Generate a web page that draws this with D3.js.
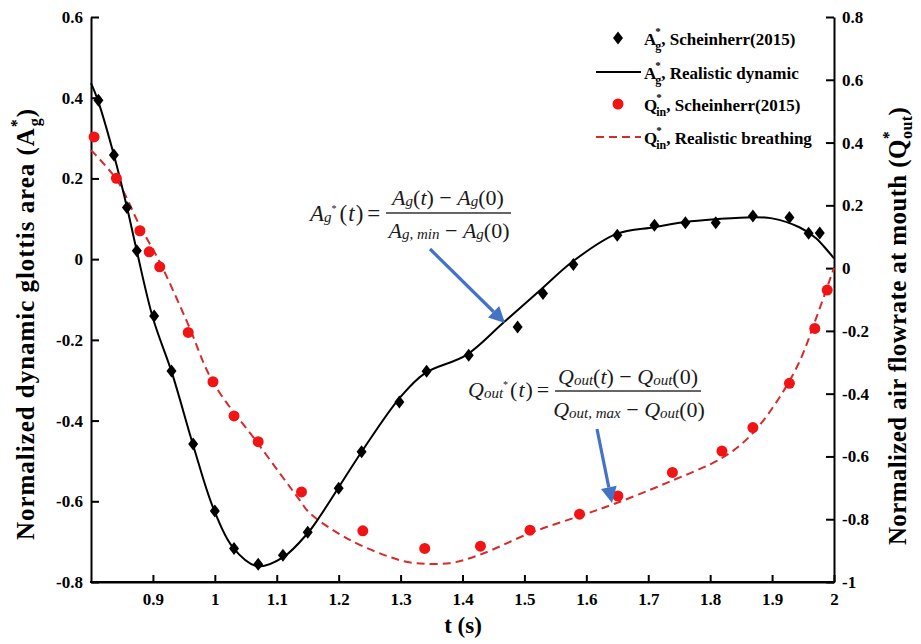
<!DOCTYPE html>
<html><head><meta charset="utf-8">
<script src="https://cdn.jsdelivr.net/npm/d3@7"></script>
<style>
body{margin:0;background:#fff}
svg{display:block}
</style>
</head><body>
<svg id="c" width="921" height="644"></svg>
<script>
// ---------- data ----------
const xTicks = [0.9,1,1.1,1.2,1.3,1.4,1.5,1.6,1.7,1.8,1.9,2];
const leftTicks = [-0.8,-0.6,-0.4,-0.2,0,0.2,0.4,0.6];
const rightTicks = [-1,-0.8,-0.6,-0.4,-0.2,0,0.2,0.4,0.6,0.8];

// A_g*, Scheinherr(2015) (left axis)
const agExpT = [0.812,0.837,0.858,0.874,0.902,0.930,0.965,1.000,1.031,1.070,1.110,1.150,1.200,1.237,1.298,1.342,1.410,1.489,1.530,1.579,1.650,1.710,1.760,1.809,1.869,1.928,1.959,1.977];
const agExpV = [0.394,0.258,0.128,0.021,-0.141,-0.277,-0.458,-0.624,-0.717,-0.756,-0.734,-0.677,-0.568,-0.477,-0.354,-0.278,-0.238,-0.168,-0.085,-0.013,0.059,0.084,0.090,0.090,0.107,0.103,0.064,0.065];
// A_g*, Realistic dynamic (left axis)
const agSimT = [0.8,0.811,0.837,0.858,0.874,0.9,0.931,0.965,0.997,1.029,1.069,1.110,1.150,1.169,1.239,1.298,1.339,1.406,1.465,1.529,1.577,1.648,1.71,1.76,1.81,1.869,1.9,1.944,1.971,1.989,2.0];
const agSimV = [0.436,0.394,0.258,0.129,0.020,-0.146,-0.283,-0.461,-0.615,-0.714,-0.761,-0.739,-0.679,-0.639,-0.473,-0.345,-0.283,-0.238,-0.159,-0.072,-0.007,0.062,0.079,0.092,0.099,0.104,0.101,0.079,0.052,0.022,0.002];
// Q_in*, Scheinherr(2015) (right axis)
const qExpT = [0.805,0.841,0.879,0.894,0.911,0.957,0.997,1.031,1.070,1.140,1.239,1.339,1.429,1.509,1.589,1.651,1.739,1.819,1.869,1.928,1.969,1.989];
const qExpV = [0.418,0.286,0.119,0.052,0.004,-0.205,-0.362,-0.471,-0.553,-0.713,-0.837,-0.893,-0.886,-0.835,-0.784,-0.726,-0.651,-0.583,-0.508,-0.367,-0.192,-0.070];
// Q_in*, Realistic breathing (right axis)
const qSimT = [0.8,0.842,0.879,0.911,0.956,0.997,1.069,1.137,1.153,1.218,1.298,1.326,1.379,1.427,1.513,1.589,1.648,1.729,1.819,1.863,1.906,1.943,1.970,1.997,2.0];
const qSimV = [0.376,0.280,0.134,0.019,-0.175,-0.363,-0.557,-0.739,-0.780,-0.866,-0.930,-0.940,-0.940,-0.914,-0.841,-0.790,-0.749,-0.685,-0.605,-0.538,-0.430,-0.303,-0.166,-0.016,0.0];

const legendNames = ["Scheinherr(2015)","Realistic dynamic","Scheinherr(2015)","Realistic breathing"];
const legendSyms = ["g","g","in","in"];
const legendBase = ["A","A","Q","Q"];

// ---------- setup ----------
const SERIF = '"Liberation Serif", "Times New Roman", Tinos, serif';
const svg = d3.select("#c").attr("font-family", SERIF);
const L=91, R=834, T=17, B=582;
const x = d3.scaleLinear().domain([0.8,2]).range([L,R]);
const yL = d3.scaleLinear().domain([-0.8,0.6]).range([B,T]);
const yR = d3.scaleLinear().domain([-1,0.8]).range([B,T]);
const fmt = d => String(+d.toFixed(1));

const BLACK="#000", RED_DOT="#f01414", RED_LINE="#d42b2b", BLUE="#4472C4";

function rich(g, px, py, parts, attrs){
  const t = g.append("text").attr("x",px).attr("y",py).attr("font-family",SERIF);
  for (const k in (attrs||{})) t.attr(k, attrs[k]);
  let prevOff=0, prevNode=null;
  parts.forEach(p=>{
    const off=p.off||0;
    const s=t.append("tspan").text(p.t).attr("font-family",SERIF);
    if(off-prevOff) s.attr("dy", off-prevOff);
    if(p.size) s.attr("font-size",p.size);
    if(p.italic!==undefined) s.attr("font-style",p.italic?"italic":"normal");
    if(p.weight) s.attr("font-weight",p.weight);
    let dx=p.dx||0;
    if(p.stack && prevNode) dx -= prevNode.getComputedTextLength();
    if(dx) s.attr("dx",dx);
    prevOff=off; prevNode=s.node();
  });
  return t;
}

// ---------- axes ----------
const axB = svg.append("g").attr("transform",`translate(0,${B})`)
  .call(d3.axisBottom(x).tickValues(xTicks).tickFormat(fmt).tickSizeInner(-7).tickSizeOuter(0).tickPadding(11));
const axL = svg.append("g").attr("transform",`translate(${L},0)`)
  .call(d3.axisLeft(yL).tickValues(leftTicks).tickFormat(fmt).tickSizeInner(-8).tickSizeOuter(0).tickPadding(8));
const axR = svg.append("g").attr("transform",`translate(${R},0)`)
  .call(d3.axisRight(yR).tickValues(rightTicks).tickFormat(fmt).tickSizeInner(-8).tickSizeOuter(0).tickPadding(8));
[axB,axL,axR].forEach(a=>{
  a.attr("font-family",SERIF).attr("font-size",17).attr("font-weight","bold");
  a.selectAll(".domain").attr("stroke",BLACK).attr("stroke-width",2);
  a.selectAll(".tick line").attr("stroke",BLACK).attr("stroke-width",2);
  a.selectAll(".tick text").attr("fill",BLACK).attr("font-size",17).attr("font-weight","bold").attr("font-family",SERIF);
});
svg.append("line").attr("x1",L-1).attr("x2",R+1).attr("y1",B).attr("y2",B).attr("stroke",BLACK).attr("stroke-width",2);

// ---------- axis titles ----------
rich(svg, 463, 633, [{t:"t (s)"}], {"text-anchor":"middle","font-size":23,"font-weight":"bold"});
function fitTitle(t, target){
  const n = t.text().length;
  const w = t.node().getBBox().width;
  t.attr("letter-spacing", ((target - w)/n).toFixed(2));
}
const tl = rich(svg.append("g").attr("transform","translate(34,324) rotate(-90)"), 0, 0, [
  {t:"Normalized dynamic glottis area (A"},
  {t:"*", size:16, off:-12},
  {t:"g", size:16, off:6, stack:true},
  {t:")", off:0}
], {"text-anchor":"middle","font-size":25,"font-weight":"bold"});
fitTitle(tl, 432);
const tr = rich(svg.append("g").attr("transform","translate(906,326) rotate(-90)"), 0, 0, [
  {t:"Normalized air flowrate at mouth (Q"},
  {t:"*", size:16, off:-12},
  {t:"out", size:16, off:6, stack:true},
  {t:")", off:0}
], {"text-anchor":"middle","font-size":25,"font-weight":"bold"});
fitTitle(tr, 438);

// ---------- series ----------
const agSim = agSimT.map((t,i)=>[t,agSimV[i]]);
const qSim = qSimT.map((t,i)=>[t,qSimV[i]]);
const agExp = agExpT.map((t,i)=>[t,agExpV[i]]);
const qExp = qExpT.map((t,i)=>[t,qExpV[i]]);

const lineL = d3.line().x(d=>x(d[0])).y(d=>yL(d[1])).curve(d3.curveCatmullRom.alpha(0.5));
const lineR = d3.line().x(d=>x(d[0])).y(d=>yR(d[1])).curve(d3.curveCatmullRom.alpha(0.5));

svg.append("path").attr("d",lineR(qSim)).attr("fill","none").attr("stroke",RED_LINE)
  .attr("stroke-width",2).attr("stroke-dasharray","8,5");
svg.append("path").attr("d",lineL(agSim)).attr("fill","none").attr("stroke",BLACK).attr("stroke-width",2);

const diamond = "M0,-6.5L5,0L0,6.5L-5,0Z";
svg.append("g").selectAll("path").data(agExp).join("path")
  .attr("d",diamond).attr("transform",d=>`translate(${x(d[0])},${yL(d[1])})`).attr("fill",BLACK);
svg.append("g").selectAll("circle").data(qExp).join("circle")
  .attr("cx",d=>x(d[0])).attr("cy",d=>yR(d[1])).attr("r",5.5).attr("fill",RED_DOT);

// ---------- legend ----------
const lg = svg.append("g");
const rowsY = [38,72,104,137];
rowsY.forEach((ry,i)=>{
  if(i===0) lg.append("path").attr("d",diamond).attr("transform",`translate(618,${ry})`).attr("fill",BLACK);
  if(i===1) lg.append("line").attr("x1",596).attr("x2",641).attr("y1",ry).attr("y2",ry).attr("stroke",BLACK).attr("stroke-width",2);
  if(i===2) lg.append("circle").attr("cx",618).attr("cy",ry).attr("r",5.5).attr("fill",RED_DOT);
  if(i===3) lg.append("line").attr("x1",596).attr("x2",641).attr("y1",ry).attr("y2",ry).attr("stroke",RED_LINE).attr("stroke-width",2).attr("stroke-dasharray","8,5");
  rich(lg, 644, ry+7, [
    {t:legendBase[i]},
    {t:"*", size:11, off:-10, dx:-1},
    {t:legendSyms[i], size:12, off:5, stack:true},
    {t:", "+legendNames[i], off:0}
  ], {"font-size":17,"font-weight":"bold","fill":BLACK});
});

// ---------- equations ----------
const eq = svg.append("g").attr("fill","#1a1a1a");
const I = {italic:true}, N={italic:false};
// Eq 1
rich(eq, 310, 221, [
  {t:"A",...I},{t:"g",size:15,off:1,...I},{t:"*",size:10,off:-9,...N},
  {t:"(",off:0,dx:3,...N},{t:"t",dx:1,...I},{t:")",dx:1,...N},{t:"=",dx:4,...N}
], {"font-size":23});
rich(eq, 448, 205, [
  {t:"A",...I},{t:"g",size:15,off:1,...I},{t:"(",off:0,...N},{t:"t",...I},{t:")",...N},{t:" − ",...N},
  {t:"A",...I},{t:"g",size:15,off:1,...I},{t:"(0)",off:0,...N}
], {"font-size":22,"text-anchor":"middle"});
eq.append("line").attr("x1",386).attr("x2",511).attr("y1",213).attr("y2",213).attr("stroke","#333").attr("stroke-width",1.3);
rich(eq, 449, 238, [
  {t:"A",...I},{t:"g, min",size:15,off:1,...I},{t:" − ",off:0,...N},
  {t:"A",...I},{t:"g",size:15,off:1,...I},{t:"(0)",off:0,...N}
], {"font-size":22,"text-anchor":"middle"});
// Eq 2
rich(eq, 468, 397, [
  {t:"Q",...I},{t:"out",size:15,off:1,...I},{t:"*",size:10,off:-9,...N},
  {t:"(",off:0,dx:2,...N},{t:"t",dx:1,...I},{t:")",dx:1,...N},{t:"=",dx:4,...N}
], {"font-size":22});
rich(eq, 628, 384, [
  {t:"Q",...I},{t:"out",size:15,off:1,...I},{t:"(",off:0,...N},{t:"t",...I},{t:")",...N},{t:" − ",...N},
  {t:"Q",...I},{t:"out",size:15,off:1,...I},{t:"(0)",off:0,...N}
], {"font-size":22,"text-anchor":"middle"});
eq.append("line").attr("x1",555).attr("x2",701).attr("y1",391).attr("y2",391).attr("stroke","#333").attr("stroke-width",1.3);
rich(eq, 629, 417, [
  {t:"Q",...I},{t:"out, max",size:15,off:1,...I},{t:" − ",off:0,...N},
  {t:"Q",...I},{t:"out",size:15,off:1,...I},{t:"(0)",off:0,...N}
], {"font-size":22,"text-anchor":"middle"});

// ---------- arrows ----------
function arrow(x1,y1,x2,y2){
  const a=Math.atan2(y2-y1,x2-x1), hl=16, hw=8;
  const bx=x2-hl*Math.cos(a), by=y2-hl*Math.sin(a);
  svg.append("line").attr("x1",x1).attr("y1",y1).attr("x2",bx).attr("y2",by)
    .attr("stroke",BLUE).attr("stroke-width",3.2);
  const px=-Math.sin(a)*hw, py=Math.cos(a)*hw;
  svg.append("path").attr("d",`M${x2},${y2}L${bx+px},${by+py}L${bx-px},${by-py}Z`).attr("fill",BLUE);
}
arrow(430,249,505,323);
arrow(597,429,612,503);
</script>
</body></html>
